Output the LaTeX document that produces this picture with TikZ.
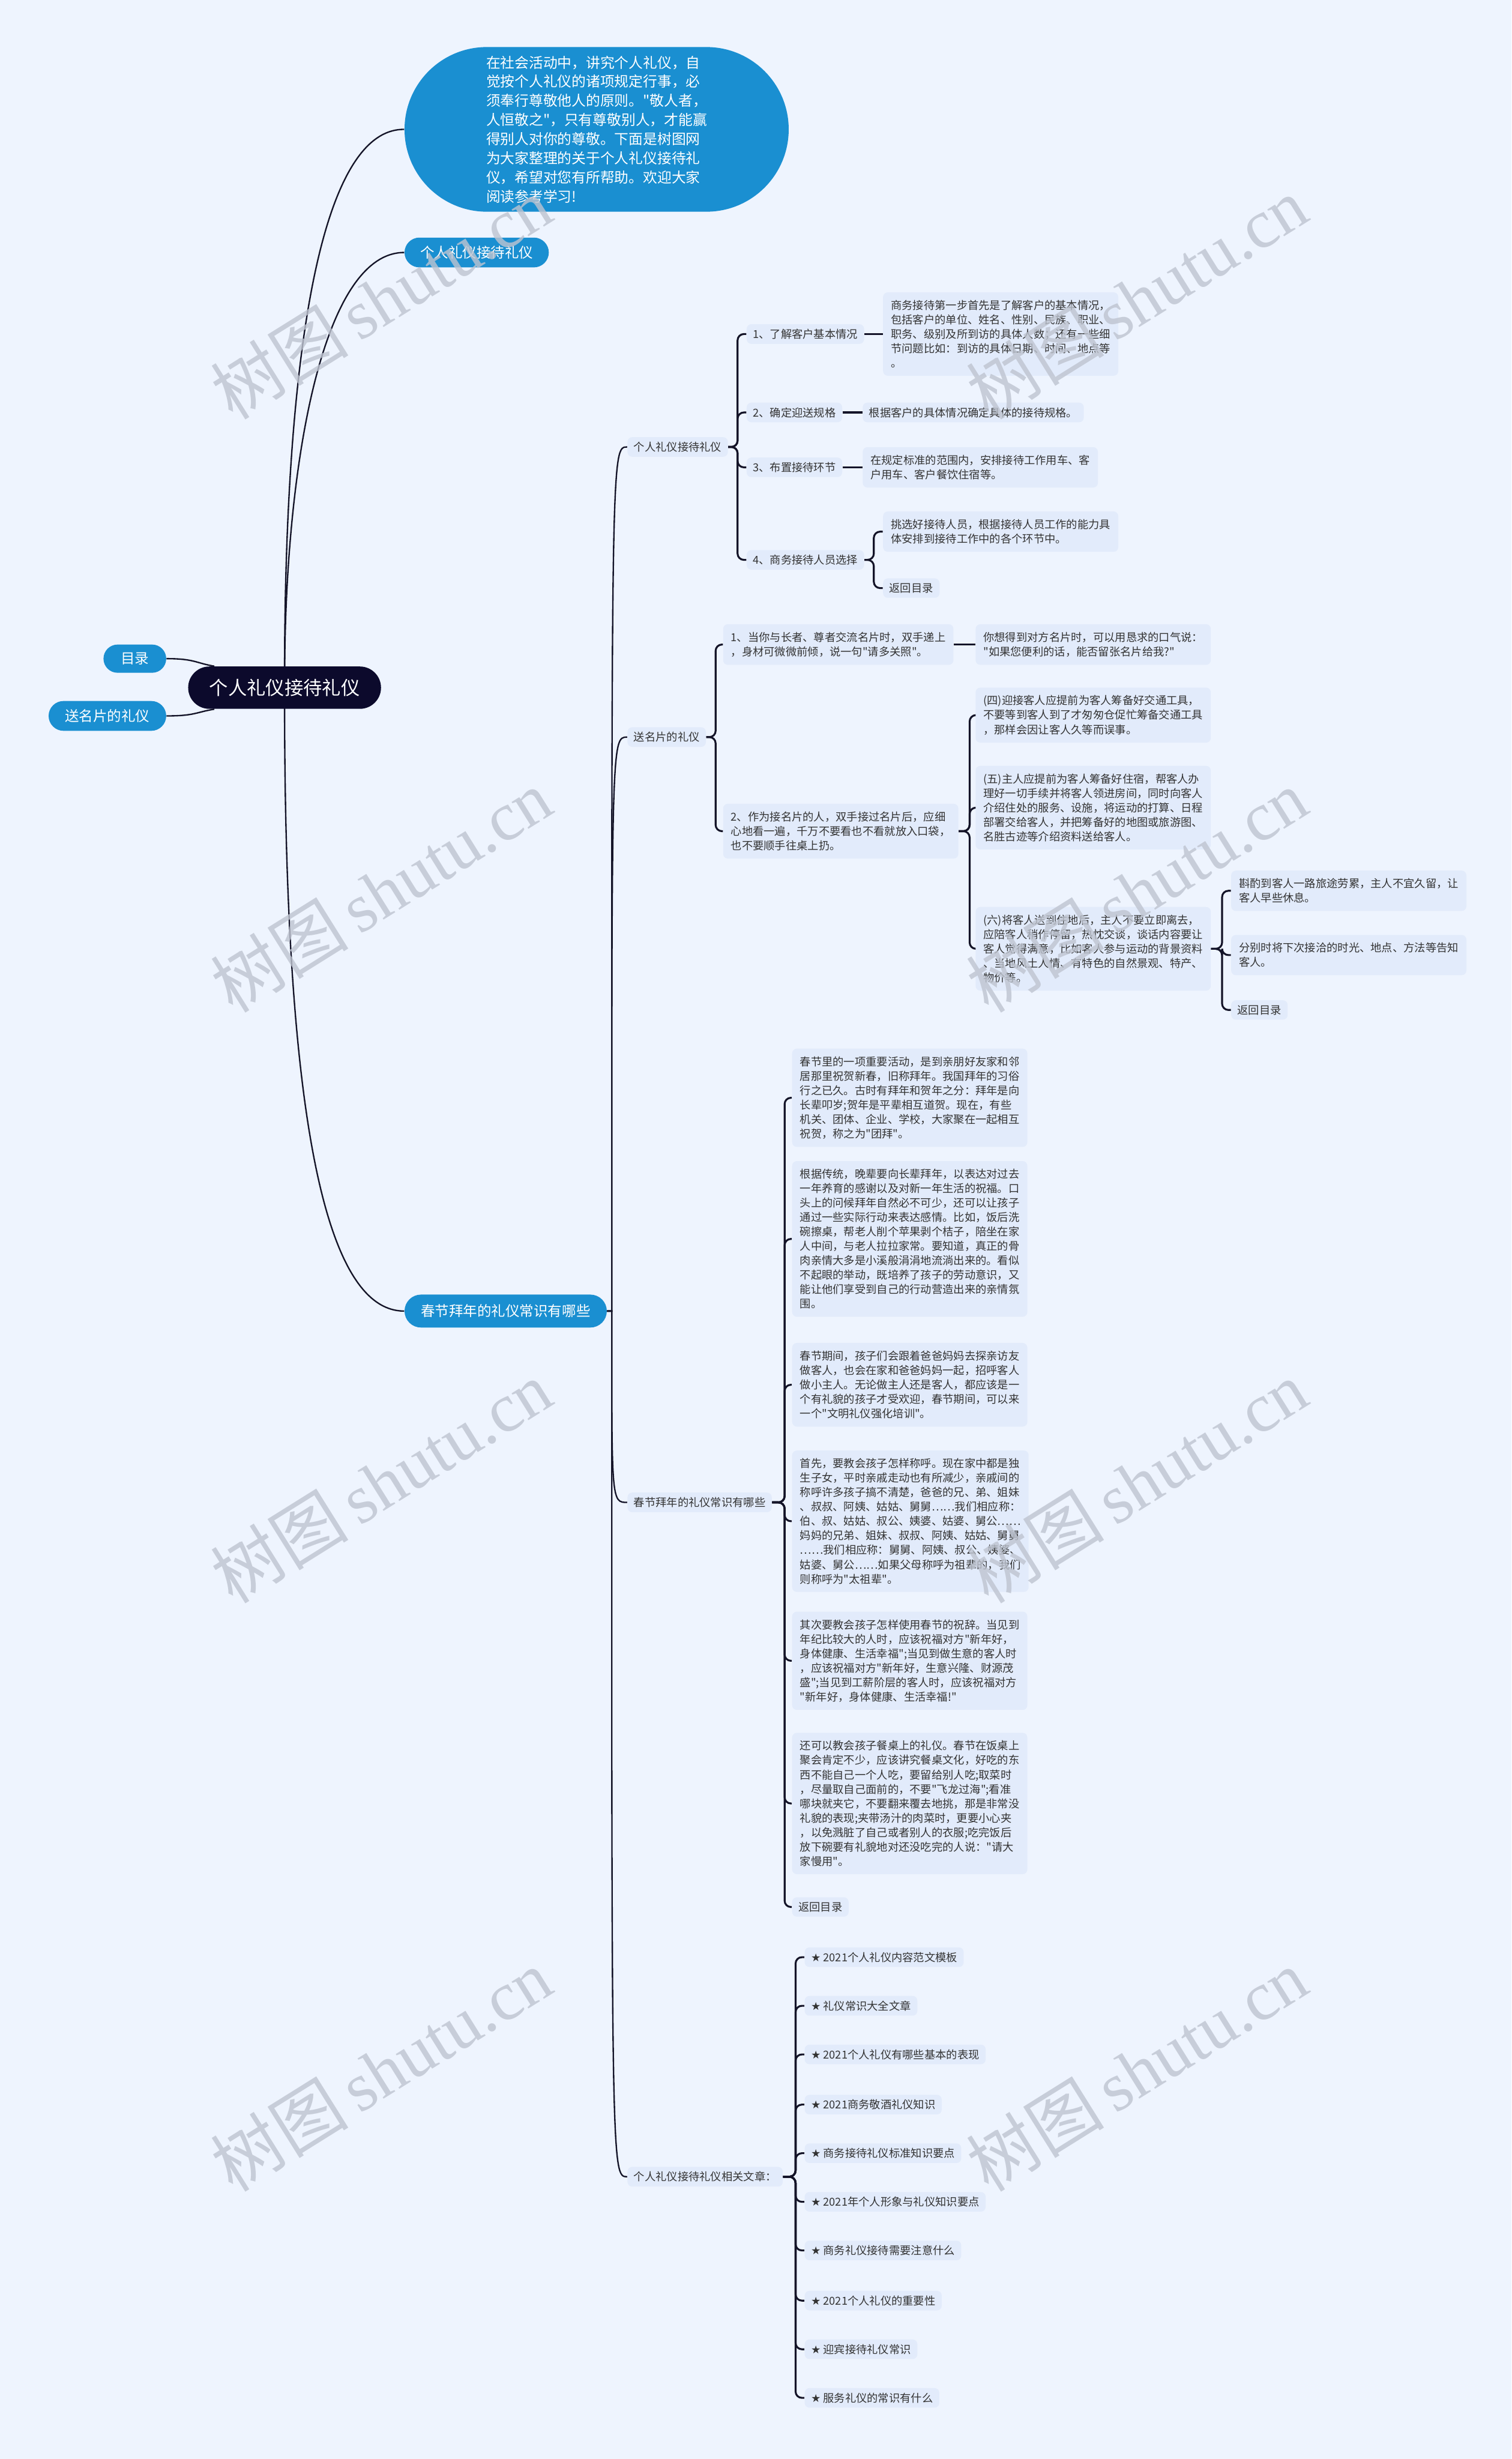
\documentclass[tikz,border=0pt]{standalone}
\usepackage{fontspec}
\newfontfamily\cf{Noto Sans CJK SC}
\newfontfamily\symf{DejaVu Sans}
\newfontfamily\wmserif{Liberation Serif}
\usetikzlibrary{shapes.misc}
\pgfdeclarelayer{bg}
\pgfdeclarelayer{fg}
\pgfsetlayers{bg,main,fg}
\definecolor{bgc}{RGB}{238,244,254}
\definecolor{boxc}{RGB}{226,235,251}
\definecolor{bluec}{RGB}{26,143,209}
\definecolor{navyc}{RGB}{12,10,44}
\definecolor{linec}{RGB}{20,20,40}
\definecolor{txtc}{RGB}{51,51,51}
\definecolor{wmc}{RGB}{190,196,208}
\tikzset{
  box/.style={fill=boxc, rounded corners=3pt, inner xsep=4pt, inner ysep=3pt, text=txtc,
    font=\cf\fontsize{7}{9.2}\selectfont, anchor=west, align=left},
  dbox/.style={box, inner xsep=5pt, inner ysep=5pt},
  pill/.style={rounded rectangle, fill=bluec, text=white, inner sep=0pt,
    font=\cf\fontsize{9}{11}\selectfont},
  conn/.style={draw=linec, line width=1.2pt, rounded corners=4pt},
  curve/.style={draw=linec, line width=0.9pt},
  wm/.style={text=wmc, opacity=0.8, rotate=32, font=\cf\fontsize{44}{44}\selectfont}
}
\begin{document}
\begin{tikzpicture}[x=1pt,y=-1pt,font=\cf]
\useasboundingbox (0,0) rectangle (964,1568);

% main nodes
\node[rounded rectangle, fill=navyc, text=white, inner sep=0pt, minimum width=123pt, minimum height=27pt,
  font=\cf\fontsize{12}{14}\selectfont] (root) at (181.5,438.5) {个人礼仪接待礼仪};
\node[pill, minimum width=40pt, minimum height=18pt] (mulu) at (86,420) {目录};
\node[pill, minimum width=75pt, minimum height=19pt] (songl) at (68.5,456.5) {送名片的礼仪};
\node[pill, minimum width=245pt, minimum height=105pt, align=left,
  font=\cf\fontsize{9.1}{12.2}\selectfont] (bubble) at (380.5,82.5) {在社会活动中，讲究个人礼仪，自\\觉按个人礼仪的诸项规定行事，必\\须奉行尊敬他人的原则。"敬人者，\\人恒敬之"，只有尊敬别人，才能赢\\得别人对你的尊敬。下面是树图网\\为大家整理的关于个人礼仪接待礼\\仪，希望对您有所帮助。欢迎大家\\阅读参考学习!};
\node[pill, minimum width=92pt, minimum height=19pt] (blue2) at (304,161) {个人礼仪接待礼仪};
\node[pill, minimum width=129pt, minimum height=21pt] (chun) at (322.5,836) {春节拜年的礼仪常识有哪些};

% level 2
\node[box] (l2a) at (400,285) {个人礼仪接待礼仪};
\node[box] (l2b) at (400,470) {送名片的礼仪};
\node[box] (l2c) at (400,958) {春节拜年的礼仪常识有哪些};
\node[box] (l2d) at (400,1388) {个人礼仪接待礼仪相关文章：};

% branch a
\node[box] (a1) at (476,213) {1、了解客户基本情况};
\node[box] (a2) at (476,263) {2、确定迎送规格};
\node[box] (a3) at (476,298) {3、布置接待环节};
\node[box] (a4) at (476,357) {4、商务接待人员选择};
\node[dbox] (a1d) at (563,213) {商务接待第一步首先是了解客户的基本情况，\\包括客户的单位、姓名、性别、民族、职业、\\职务、级别及所到访的具体人数；还有一些细\\节问题比如：到访的具体日期、时间、地点等\\。};
\node[box] (a2d) at (550,263) {根据客户的具体情况确定具体的接待规格。};
\node[dbox] (a3d) at (550,298) {在规定标准的范围内，安排接待工作用车、客\\户用车、客户餐饮住宿等。};
\node[dbox] (a4a) at (563,339) {挑选好接待人员，根据接待人员工作的能力具\\体安排到接待工作中的各个环节中。};
\node[box] (a4b) at (563,375) {返回目录};

% branch b
\node[dbox] (b1) at (461,411) {1、当你与长者、尊者交流名片时，双手递上\\，身材可微微前倾，说一句"请多关照"。};
\node[dbox] (b1d) at (622,411) {你想得到对方名片时，可以用恳求的口气说：\\"如果您便利的话，能否留张名片给我?"};
\node[dbox] (b2) at (461,530) {2、作为接名片的人，双手接过名片后，应细\\心地看一遍，千万不要看也不看就放入口袋，\\也不要顺手往桌上扔。};
\node[dbox] (b2a) at (622,456) {(四)迎接客人应提前为客人筹备好交通工具，\\不要等到客人到了才匆匆仓促忙筹备交通工具\\，那样会因让客人久等而误事。};
\node[dbox] (b2b) at (622,515) {(五)主人应提前为客人筹备好住宿，帮客人办\\理好一切手续并将客人领进房间，同时向客人\\介绍住处的服务、设施，将运动的打算、日程\\部署交给客人，并把筹备好的地图或旅游图、\\名胜古迹等介绍资料送给客人。};
\node[dbox] (b2c) at (622,605) {(六)将客人送到住地后，主人不要立即离去，\\应陪客人稍作停留，热忱交谈，谈话内容要让\\客人觉得满意，比如客人参与运动的背景资料\\、当地风土人情、有特色的自然景观、特产、\\物价等。};
\node[dbox] (b2c1) at (785,568) {斟酌到客人一路旅途劳累，主人不宜久留，让\\客人早些休息。};
\node[dbox] (b2c2) at (785,609) {分别时将下次接洽的时光、地点、方法等告知\\客人。};
\node[box] (b2c3) at (785,644) {返回目录};

% branch c
\node[dbox] (c1) at (505,700) {春节里的一项重要活动，是到亲朋好友家和邻\\居那里祝贺新春，旧称拜年。我国拜年的习俗\\行之已久。古时有拜年和贺年之分：拜年是向\\长辈叩岁;贺年是平辈相互道贺。现在，有些\\机关、团体、企业、学校，大家聚在一起相互\\祝贺，称之为"团拜"。};
\node[dbox] (c2) at (505,790) {根据传统，晚辈要向长辈拜年，以表达对过去\\一年养育的感谢以及对新一年生活的祝福。口\\头上的问候拜年自然必不可少，还可以让孩子\\通过一些实际行动来表达感情。比如，饭后洗\\碗擦桌，帮老人削个苹果剥个桔子，陪坐在家\\人中间，与老人拉拉家常。要知道，真正的骨\\肉亲情大多是小溪般涓涓地流淌出来的。看似\\不起眼的举动，既培养了孩子的劳动意识，又\\能让他们享受到自己的行动营造出来的亲情氛\\围。};
\node[dbox] (c3) at (505,883) {春节期间，孩子们会跟着爸爸妈妈去探亲访友\\做客人，也会在家和爸爸妈妈一起，招呼客人\\做小主人。无论做主人还是客人，都应该是一\\个有礼貌的孩子才受欢迎，春节期间，可以来\\一个"文明礼仪强化培训"。};
\node[dbox] (c4) at (505,970) {首先，要教会孩子怎样称呼。现在家中都是独\\生子女，平时亲戚走动也有所减少，亲戚间的\\称呼许多孩子搞不清楚，爸爸的兄、弟、姐妹\\、叔叔、阿姨、姑姑、舅舅……我们相应称：\\伯、叔、姑姑、叔公、姨婆、姑婆、舅公……\\妈妈的兄弟、姐妹、叔叔、阿姨、姑姑、舅舅\\……我们相应称：舅舅、阿姨、叔公、姨婆、\\姑婆、舅公……如果父母称呼为祖辈的，我们\\则称呼为"太祖辈"。};
\node[dbox] (c5) at (505,1059) {其次要教会孩子怎样使用春节的祝辞。当见到\\年纪比较大的人时，应该祝福对方"新年好，\\身体健康、生活幸福";当见到做生意的客人时\\，应该祝福对方"新年好，生意兴隆、财源茂\\盛";当见到工薪阶层的客人时，应该祝福对方\\"新年好，身体健康、生活幸福!"};
\node[dbox] (c6) at (505,1150) {还可以教会孩子餐桌上的礼仪。春节在饭桌上\\聚会肯定不少，应该讲究餐桌文化，好吃的东\\西不能自己一个人吃，要留给别人吃;取菜时\\，尽量取自己面前的，不要"飞龙过海";看准\\哪块就夹它，不要翻来覆去地挑，那是非常没\\礼貌的表现;夹带汤汁的肉菜时，更要小心夹\\，以免溅脏了自己或者别人的衣服;吃完饭后\\放下碗要有礼貌地对还没吃完的人说："请大\\家慢用"。};
\node[box] (c7) at (505,1216) {返回目录};

% branch d
\node[box] (d1) at (513,1248) {{\symf ★} 2021个人礼仪内容范文模板};
\node[box] (d2) at (513,1279) {{\symf ★} 礼仪常识大全文章};
\node[box] (d3) at (513,1310) {{\symf ★} 2021个人礼仪有哪些基本的表现};
\node[box] (d4) at (513,1342) {{\symf ★} 2021商务敬酒礼仪知识};
\node[box] (d5) at (513,1373) {{\symf ★} 商务接待礼仪标准知识要点};
\node[box] (d6) at (513,1404) {{\symf ★} 2021年个人形象与礼仪知识要点};
\node[box] (d7) at (513,1435) {{\symf ★} 商务礼仪接待需要注意什么};
\node[box] (d8) at (513,1467) {{\symf ★} 2021个人礼仪的重要性};
\node[box] (d9) at (513,1498) {{\symf ★} 迎宾接待礼仪常识};
\node[box] (d10) at (513,1529) {{\symf ★} 服务礼仪的常识有什么};

\begin{pgfonlayer}{bg}
\fill[bgc] (0,0) rectangle (964,1568);
% root connectors
\draw[curve] (mulu.east) .. controls +(18,0) and +(-12,-2) .. (root.163);
\draw[curve] (songl.east) .. controls +(18,0) and +(-12,2) .. (root.197);
\draw[curve] (root.center) .. controls (181,250) and (200,82) .. (bubble.west);
\draw[curve] (root.center) .. controls (181,300) and (205,161) .. (blue2.west);
\draw[curve] (root.center) .. controls (181,700) and (205,836) .. (chun.west);
% second level
\draw[curve] (chun.east) -- ++(3,0) .. controls (390,285) and (390,285) .. (l2a.west);
\draw[curve] (chun.east) -- ++(3,0) .. controls (390,470) and (390,470) .. (l2b.west);
\draw[curve] (chun.east) -- ++(3,0) .. controls (390,958) and (390,958) .. (l2c.west);
\draw[curve] (chun.east) -- ++(3,0) .. controls (390,1388) and (390,1388) .. (l2d.west);
% branch a
\foreach \c in {a1,a2,a3,a4} \draw[conn] (l2a.east) -- ++(6,0) |- (\c.west);
\draw[conn] (a1.east) -- (a1d.west);
\draw[conn] (a2.east) -- (a2d.west);
\draw[conn] (a3.east) -- (a3d.west);
\foreach \c in {a4a,a4b} \draw[conn] (a4.east) -- ++(6,0) |- (\c.west);
% branch b
\foreach \c in {b1,b2} \draw[conn] (l2b.east) -- ++(6,0) |- (\c.west);
\draw[conn] (b1.east) -- (b1d.west);
\foreach \c in {b2a,b2b,b2c} \draw[conn] (b2.east) -- ++(7,0) |- (\c.west);
\foreach \c in {b2c1,b2c2,b2c3} \draw[conn] (b2c.east) -- ++(7,0) |- (\c.west);
% branch c
\foreach \c in {c1,c2,c3,c4,c5,c6,c7} \draw[conn] (l2c.east) -- ++(8,0) |- (\c.west);
% branch d
\foreach \c in {d1,d2,d3,d4,d5,d6,d7,d8,d9,d10} \draw[conn] (l2d.east) -- ++(8,0) |- (\c.west);
\end{pgfonlayer}

\begin{pgfonlayer}{fg}
\foreach \p in {(243,190),(725,190),(243,568),(725,568),(243,945),(725,945),(243,1320),(725,1320)}
  \node[wm] at \p {树图\,{\wmserif shutu.cn}};
\end{pgfonlayer}
\end{tikzpicture}
\end{document}
